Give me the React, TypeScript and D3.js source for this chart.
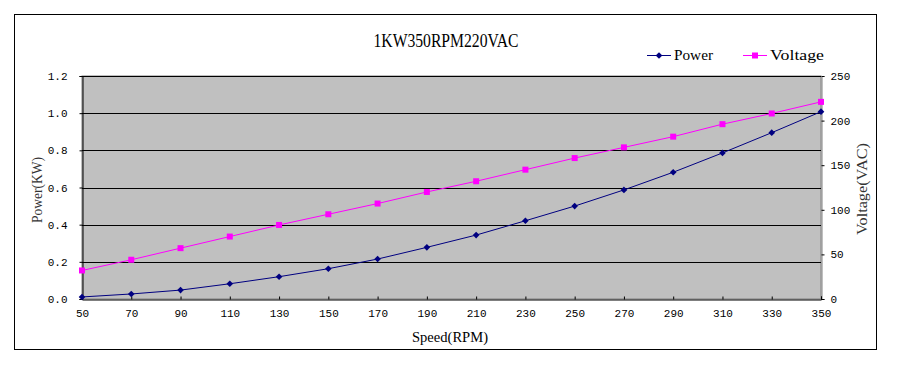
import { useEffect, useRef } from "react";
import * as d3 from "d3";

const speeds = [50, 70, 90, 110, 130, 150, 170, 190, 210, 230, 250, 270, 290, 310, 330, 350];
const power = [0.011, 0.027, 0.048, 0.082, 0.12, 0.163, 0.215, 0.278, 0.344, 0.421, 0.5, 0.587, 0.682, 0.786, 0.895, 1.008];
const voltage = [32, 44, 57, 70, 83, 95, 107, 120, 132, 145, 158, 170, 182, 196, 208, 221];
const powerTicks = [0, 0.2, 0.4, 0.6, 0.8, 1.0, 1.2];
const voltTicks = [0, 50, 100, 150, 200, 250];
const title = "1KW350RPM220VAC";

const MONO = "'Liberation Mono', 'DejaVu Sans Mono', monospace";
const SERIF = "'Liberation Serif', 'DejaVu Serif', serif";

function App() {
  const svgRef = useRef<SVGSVGElement>(null);
  const width = 901, height = 372;
  const plot = { left: 82, right: 821, top: 76, bottom: 299 };

  useEffect(() => {
    const svg = d3.select(svgRef.current);
    svg.selectAll("*").remove();

    const x = d3.scaleLinear().domain([50, 350]).range([plot.left, plot.right]);
    const yL = d3.scaleLinear().domain([0, 1.2]).range([plot.bottom, plot.top]);
    const yR = d3.scaleLinear().domain([0, 250]).range([plot.bottom, plot.top]);

    // outer frame
    svg.append("rect")
      .attr("x", 14.5).attr("y", 14.5).attr("width", 862).attr("height", 335)
      .attr("fill", "white").attr("stroke", "black").attr("stroke-width", 1);

    // plot background
    svg.append("rect")
      .attr("x", plot.left).attr("y", plot.top)
      .attr("width", plot.right - plot.left).attr("height", plot.bottom - plot.top)
      .attr("fill", "#C0C0C0").attr("stroke", "#808080");

    // grid lines
    svg.append("g").selectAll("line").data(powerTicks.slice(1)).enter().append("line")
      .attr("x1", plot.left).attr("x2", plot.right)
      .attr("y1", d => Math.round(yL(d)) + 0.5).attr("y2", d => Math.round(yL(d)) + 0.5)
      .attr("stroke", "black").attr("stroke-width", 1);

    const gL = svg.append("g").attr("transform", `translate(${plot.left + 0.5},0)`)
      .call(d3.axisLeft(yL).tickValues(powerTicks).tickSize(3).tickPadding(12).tickFormat(d3.format(".1f")));
    const gR = svg.append("g").attr("transform", `translate(${plot.right + 0.5},0)`)
      .call(d3.axisRight(yR).tickValues(voltTicks).tickSize(3).tickPadding(6));
    const gB = svg.append("g").attr("transform", `translate(0,${plot.bottom + 0.5})`)
      .call(d3.axisBottom(x).tickValues(speeds).tickSize(-3).tickPadding(10));

    [gL, gR, gB].forEach(g => {
      g.select(".domain").attr("stroke", "black");
      g.selectAll("line").attr("stroke", "black");
      g.selectAll("text").attr("font-family", MONO).attr("font-size", 11).attr("fill", "black");
    });
    gR.select(".domain").attr("stroke", "#808080");
    gB.selectAll("text").attr("dy", "0.71em");

    const pts = speeds.map((s, i) => ({ s, p: power[i], v: voltage[i] }));
    svg.append("path").datum(pts)
      .attr("fill", "none").attr("stroke", "#FF00FF").attr("stroke-width", 1)
      .attr("d", d3.line<any>().x(d => x(d.s)).y(d => yR(d.v)));
    svg.append("path").datum(pts)
      .attr("fill", "none").attr("stroke", "#000080").attr("stroke-width", 1)
      .attr("d", d3.line<any>().x(d => x(d.s)).y(d => yL(d.p)));

    const diamond = d3.symbol().type(d3.symbolDiamond2).size(28);
    svg.append("g").selectAll("path").data(pts).enter().append("path")
      .attr("d", diamond).attr("fill", "#000080")
      .attr("transform", d => `translate(${x(d.s)},${yL(d.p)})`);
    svg.append("g").selectAll("rect").data(pts).enter().append("rect")
      .attr("x", d => x(d.s) - 3).attr("y", d => yR(d.v) - 3)
      .attr("width", 6).attr("height", 6).attr("fill", "#FF00FF");

    // title
    svg.append("text").attr("x", 446).attr("y", 47).attr("text-anchor", "middle")
      .attr("font-family", SERIF).attr("font-size", 18)
      .attr("textLength", 145).attr("lengthAdjust", "spacingAndGlyphs").text(title);

    // legend
    const legend = [
      { name: "Power", color: "#000080", x: 647, marker: "diamond", w: 39 },
      { name: "Voltage", color: "#FF00FF", x: 743, marker: "square", w: 54 },
    ];
    legend.forEach(l => {
      const g = svg.append("g");
      g.append("line").attr("x1", l.x).attr("x2", l.x + 24).attr("y1", 55.5).attr("y2", 55.5)
        .attr("stroke", l.color);
      if (l.marker === "diamond") {
        g.append("path").attr("d", diamond).attr("fill", l.color)
          .attr("transform", `translate(${l.x + 12},55.5)`);
      } else {
        g.append("rect").attr("x", l.x + 9).attr("y", 52.5).attr("width", 6).attr("height", 6).attr("fill", l.color);
      }
      g.append("text").attr("x", l.x + 27).attr("y", 60)
        .attr("font-family", SERIF).attr("font-size", 15)
        .attr("textLength", l.w).attr("lengthAdjust", "spacingAndGlyphs").text(l.name);
    });

    // axis titles
    svg.append("text").attr("transform", `translate(42,190) rotate(-90)`)
      .attr("text-anchor", "middle").attr("font-family", SERIF).attr("font-size", 15)
      .attr("textLength", 66).attr("lengthAdjust", "spacingAndGlyphs")
      .attr("fill", "#333").text("Power(KW)");
    svg.append("text").attr("transform", `translate(867,189) rotate(-90)`)
      .attr("text-anchor", "middle").attr("font-family", SERIF).attr("font-size", 15)
      .attr("textLength", 92).attr("lengthAdjust", "spacingAndGlyphs")
      .attr("fill", "#333").text("Voltage(VAC)");
    svg.append("text").attr("x", 450).attr("y", 342)
      .attr("text-anchor", "middle").attr("font-family", SERIF).attr("font-size", 15)
      .attr("textLength", 76).attr("lengthAdjust", "spacingAndGlyphs")
      .text("Speed(RPM)");
  }, []);

  return (
    <svg ref={svgRef} width={width} height={height}
      style={{ position: "absolute", left: 0, top: 0, background: "white" }} />
  );
}

export default App;
